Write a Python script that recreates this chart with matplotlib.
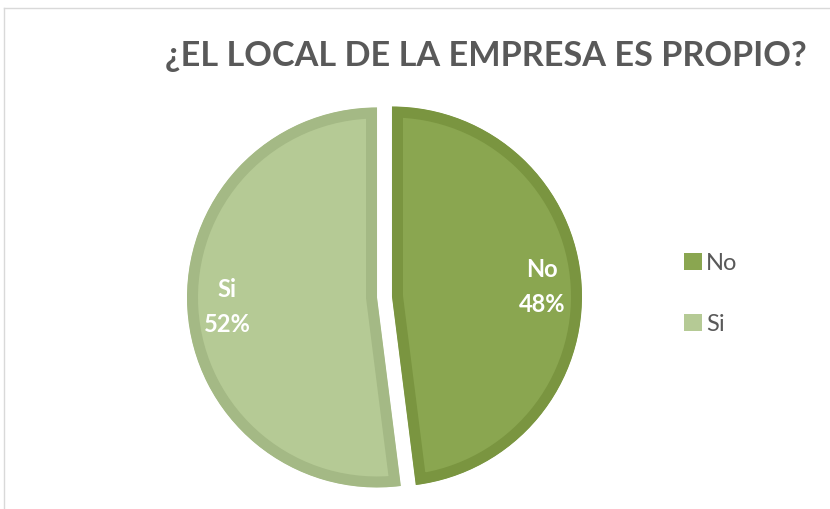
import matplotlib
matplotlib.use("Agg")
import matplotlib.pyplot as plt
from matplotlib.patches import Patch
from matplotlib.lines import Line2D

categories = ["No", "Si"]
values = [48, 52]
face_colors = ["#8aa650", "#b5ca95"]
edge_colors = ["#7a9540", "#a4b985"]
title = "¿EL LOCAL DE LA EMPRESA ES PROPIO?"

W, H = 830, 509
fig = plt.figure(figsize=(W / 100, H / 100), dpi=100)
ax = fig.add_axes([0, 0, 1, 1])

# pie centre / radius / explode in pixels (y measured from bottom)
wedges, _, autotexts = ax.pie(
    values, startangle=90, counterclock=False, radius=190,
    center=(384.5, H - 297), explode=[7.5, 7.5],
    colors=face_colors, autopct="%1.0f%%", pctdistance=0.79,
    textprops=dict(color="white", fontsize=17, fontweight="bold",
                   family="Lato", linespacing=1.65),
    frame=True)
ax.set_xlim(0, W)
ax.set_ylim(0, H)
ax.set_aspect("equal")
ax.axis("off")

# inner border: thick stroke clipped to the slice itself
# (pie makes wedges with clip_on=False, so switch clipping back on)
for w, ec in zip(wedges, edge_colors):
    w.set_edgecolor(ec)
    w.set_linewidth(22 * 72 / 100)
    w.set_joinstyle("miter")
    w.set_clip_on(True)
    w.set_clip_path(w)

for t, name in zip(autotexts, categories):
    t.set_text(name + "\n" + t.get_text())
    t.set_ha("center")
    t.set_va("center")

fig.text(165 / W, 1 - 56 / H, title, fontsize=24.7, fontweight="bold",
         family="Lato", color="#595959", ha="left", va="center")

handles = [Patch(facecolor=c, edgecolor="none") for c in face_colors]
fig.legend(handles, categories, loc="upper left",
           bbox_to_anchor=(672 / W, 1 - 241 / H), frameon=False,
           prop=dict(family="Lato", size=17), labelcolor="#595959",
           handlelength=0.75, handleheight=0.75, handletextpad=0.2,
           labelspacing=1.7, borderpad=0)

# light chart-area frame (top and left edges visible)
fig.add_artist(Line2D([4 / W, 1], [1 - 8 / H, 1 - 8 / H], color="#d9d9d9", lw=1))
fig.add_artist(Line2D([4 / W, 4 / W], [0, 1 - 8 / H], color="#d9d9d9", lw=1))

fig.savefig("out.png", dpi=100)
